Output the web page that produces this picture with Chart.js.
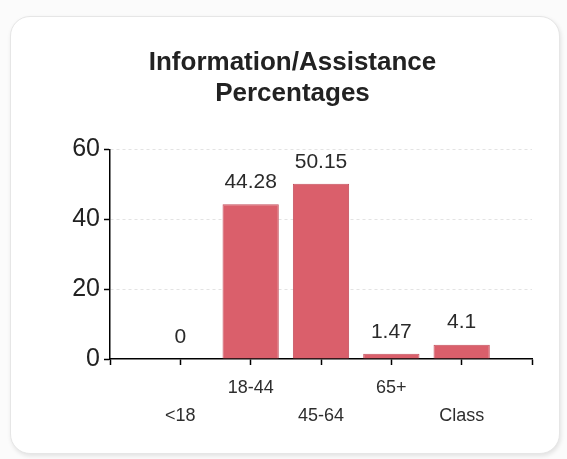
<!DOCTYPE html>
<html>
<head>
    <meta charset="UTF-8">
    <title>Information/Assistance Percentages</title>
    <style>
        html, body {
            margin: 0;
            padding: 0;
            background: #fbfbfb;
        }
        #card {
            position: absolute;
            left: 10px;
            top: 16px;
            width: 548px;
            height: 436px;
            background: #ffffff;
            border: 1px solid #e6e6e6;
            border-radius: 20px;
            box-shadow: 1px 2px 4px rgba(0, 0, 0, 0.10);
        }
        #wrap {
            position: absolute;
            left: 0;
            top: 0;
            width: 567px;
            height: 459px;
        }
    </style>
    <script src="https://cdn.jsdelivr.net/npm/chart.js@4.4.0/dist/chart.umd.min.js"></script>
</head>
<body>
<div id="card"></div>
<div id="wrap"><canvas id="bar-chart" width="567" height="459"></canvas></div>
<script>
    // 차트 데이터
    var categories = ['<18', '18-44', '45-64', '65+', 'Class'];
    var percentages = [0, 44.28, 50.15, 1.47, 4.1];
    var yTicks = [0, 20, 40, 60];

    // 막대 위 값 표시
    var valueLabels = {
        id: 'valueLabels',
        afterDatasetsDraw: function(chart) {
            var ctx = chart.ctx;
            var meta = chart.getDatasetMeta(0);
            ctx.save();
            ctx.font = '21px "Liberation Sans", Arial, sans-serif';
            ctx.fillStyle = '#2a2a2a';
            ctx.textAlign = 'center';
            ctx.textBaseline = 'middle';
            meta.data.forEach(function(bar, i) {
                ctx.fillText(String(percentages[i]), bar.x, bar.y - 22);
            });
            ctx.restore();
        }
    };

    var points = categories.map(function(c, i) {
        return {x: i + 1, y: percentages[i]};
    });

    var ctx = document.getElementById('bar-chart').getContext('2d');
    var chart = new Chart(ctx, {
        type: 'bar',
        data: {
            datasets: [{
                data: points,
                backgroundColor: '#da5f6b',
                borderColor: '#c44f5c',
                borderWidth: 1,
                barPercentage: 0.8,
                categoryPercentage: 1
            }]
        },
        options: {
            responsive: false,
            animation: false,
            layout: {
                padding: {left: 53, right: 35, top: 0, bottom: 29}
            },
            plugins: {
                legend: {display: false},
                tooltip: {enabled: false},
                title: {
                    display: true,
                    text: ['Information/Assistance', 'Percentages'],
                    color: '#222222',
                    font: {family: '"Liberation Sans", Arial, sans-serif', size: 26, weight: 'bold', lineHeight: 1.2},
                    padding: {top: 47, bottom: 40}
                }
            },
            scales: {
                x: {
                    type: 'linear',
                    min: 0,
                    max: 6,
                    offset: false,
                    afterBuildTicks: function(scale) {
                        scale.ticks = [0, 1, 2, 3, 4, 5, 6].map(function(v) { return {value: v}; });
                    },
                    afterFit: function(scale) {
                        scale.height = 71;
                    },
                    grid: {
                        offset: false,
                        drawOnChartArea: false,
                        tickLength: 6,
                        tickColor: '#000000',
                        tickWidth: 1.5
                    },
                    border: {color: '#000000', width: 1.5},
                    ticks: {
                        autoSkip: false,
                        maxRotation: 0,
                        padding: 9,
                        color: '#2e2e2e',
                        font: {family: '"Liberation Sans", Arial, sans-serif', size: 18, lineHeight: 1.56},
                        callback: function(value) {
                            var label = categories[value - 1];
                            if (label === undefined) return '';
                            // 아래/위 두 줄로 번갈아 표시
                            return (value % 2 === 1) ? ['', label] : label;
                        }
                    }
                },
                y: {
                    min: 0,
                    max: 60,
                    afterBuildTicks: function(scale) {
                        scale.ticks = yTicks.map(function(v) { return {value: v}; });
                    },
                    afterFit: function(scale) {
                        scale.width = 57;
                    },
                    grid: {
                        color: function(c) { return c.tick && c.tick.value === 0 ? 'rgba(0,0,0,0)' : '#e3e3e3'; },
                        tickLength: 6,
                        tickColor: '#000000',
                        tickWidth: 1.5
                    },
                    border: {color: '#000000', width: 1.5, dash: [3, 3]},
                    ticks: {
                        padding: 4,
                        color: '#222222',
                        font: {family: '"Liberation Sans", Arial, sans-serif', size: 25}
                    }
                }
            }
        },
        plugins: [valueLabels]
    });
</script>
</body>
</html>
